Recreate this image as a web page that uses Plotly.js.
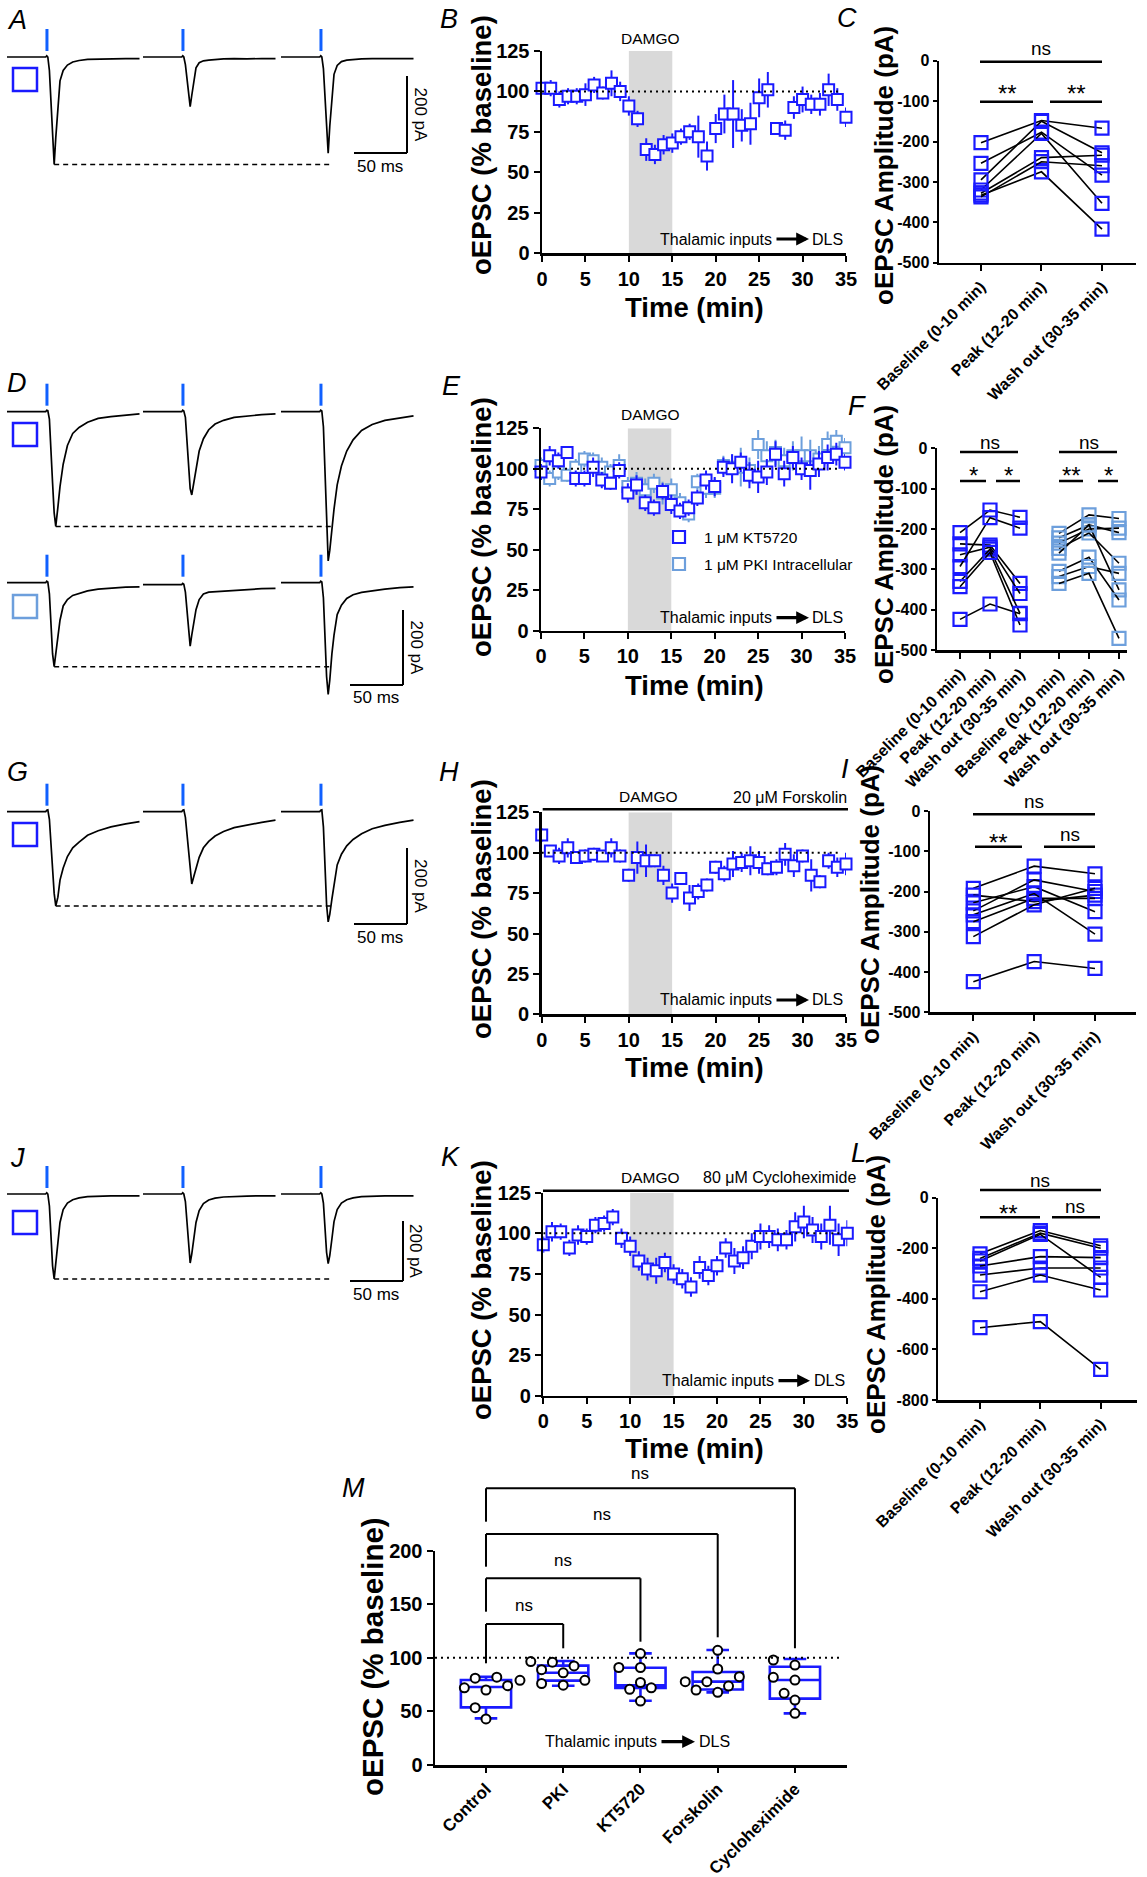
<!DOCTYPE html>
<html><head><meta charset="utf-8">
<script src="https://cdn.plot.ly/plotly-3.0.1.min.js"></script>
<style>html,body{margin:0;padding:0;background:#fff;}#chart{width:1147px;height:1877px;}</style>
</head><body><div id="chart"></div>
<script>
// ================= DATA =================
// electrophysiology sweeps: time (ms from sweep start) and current (pA)
const sweepT  = [0, 36.5, 37.5, 38.5, 40, 41.5, 43, 44.5, 46, 48, 50, 53, 57, 62, 68, 76, 86, 98, 112, 125];
const aSweep1 = [0,0,3,0,-35,-120,-225,-279,-210,-125,-62,-35,-21,-13,-9,-6,-5,-5,-4,-4];
const aSweep2 = [0,0,3,0,-20,-60,-105,-129,-100,-58,-28,-15,-10,-8,-6,-5,-4,-5,-4,-4];
const aSweep3 = [0,0,3,0,-30,-110,-200,-250,-180,-100,-45,-22,-12,-8,-6,-5,-4,-4,-4,-4];
const dTop1 = [0,0,4,3,-20,-90,-190,-270,-306,-255,-200,-140,-90,-58,-42,-28,-18,-13,-9,-6];
const dTop2 = [0,0,4,2,-15,-70,-145,-205,-222,-185,-150,-105,-72,-48,-33,-23,-15,-11,-8,-6];
const dTop3 = [0,0,4,2,-40,-160,-300,-398,-370,-310,-260,-195,-145,-105,-75,-50,-34,-23,-16,-11];
const dBot1 = [0,0,4,2,-30,-110,-190,-224,-190,-140,-100,-62,-45,-34,-28,-22,-17,-14,-12,-11];
const dBot2 = [-5,-5,-2,-4,-25,-80,-140,-169,-140,-105,-72,-45,-30,-25,-24,-22,-19,-17,-16,-15];
const dBot3 = [0,0,4,2,-40,-150,-250,-298,-260,-190,-140,-85,-60,-42,-32,-26,-21,-17,-13,-11];
const gSweep1 = [0,0,4,5,-20,-90,-160,-215,-248,-225,-180,-148,-118,-95,-80,-62,-50,-40,-32,-26];
const gSweep2 = [0,0,4,5,-15,-60,-120,-165,-190,-170,-148,-120,-95,-78,-64,-52,-42,-35,-28,-22];
const gSweep3 = [0,0,4,5,-40,-150,-245,-290,-270,-230,-190,-140,-112,-90,-73,-58,-45,-36,-28,-22];
const jSweep1 = [0,0,4,0,-40,-150,-240,-283,-235,-160,-95,-52,-30,-19,-13,-9,-7,-6,-6,-6];
const jSweep2 = [0,0,4,0,-25,-100,-185,-230,-200,-150,-95,-55,-32,-20,-14,-10,-8,-7,-6,-6];
const jSweep3 = [0,0,4,0,-30,-120,-195,-232,-205,-150,-92,-52,-30,-19,-13,-9,-7,-6,-6,-6];

// time courses (% baseline)
const timeMin = [0,1,2,3,4,5,6,7,8,9,10,11,12,13,14,15,16,17,18,19,20,21,22,23,24,25,26,27,28,29,30,31,32,33,34,35];
const bMean = [102,102,95,97,97,98,104,99,105,100,91,83,64,61,67,68,72,75,72,60,77,86,86,79,80,96,101,77,76,90,95,92,92,101,95,84];
const bErr  = [3,5,5,5,5,7,5,4,8,6,6,5,7,6,6,6,5,5,13,9,9,12,21,10,13,12,11,4,6,7,8,6,7,10,7,6];
const eKtMean = [98,108,105,110,94,94,101,93,91,99,85,90,79,76,86,78,74,76,82,93,89,101,100,104,96,95,98,109,97,107,100,99,103,107,109,104];
const eKtErr  = [5,6,5,4,5,5,6,5,4,5,6,6,5,5,5,6,5,5,5,6,6,6,9,6,8,10,8,8,8,7,7,12,8,8,7,5];
const ePkiMean = [102,94,98,96,101,106,105,101,98,102,89,91,87,91,85,87,79,72,92,88,88,102,101,101,99,115,108,110,105,108,108,108,106,115,117,113];
const ePkiErr  = [5,5,5,4,5,5,5,6,5,7,6,7,7,6,7,7,6,5,5,6,6,6,8,12,8,9,9,8,8,9,12,10,8,8,7,6];
const hMean = [111,101,98,103,97,98,99,98,103,98,86,97,95,95,86,75,84,72,76,80,91,87,93,94,95,94,90,91,99,92,98,86,82,95,91,93];
const hErr  = [4,3,5,6,3,4,4,3,6,4,4,10,10,4,6,6,3,8,5,4,4,5,8,6,9,7,4,5,7,7,4,10,4,5,6,7];
const kMean = [93,101,101,91,99,98,105,106,110,97,92,83,78,77,82,75,72,67,79,74,80,91,83,85,92,98,98,96,96,104,107,102,98,105,96,100];
const kErr  = [5,6,5,5,6,5,5,5,5,6,6,6,7,8,6,6,6,6,7,6,6,6,8,7,8,8,7,7,6,9,10,8,8,12,10,8];

// paired amplitudes (pA)
const cats3 = ['Baseline (0-10 min)','Peak (12-20 min)','Wash out (30-35 min)'];
const cBase = [-203,-254,-295,-320,-328,-333,-337];
const cPeak = [-148,-177,-150,-180,-240,-275,-250];
const cWash = [-167,-283,-228,-353,-234,-417,-260];
const fKtBase = [-209,-237,-264,-293,-330,-343,-424];
const fKtPeak = [-153,-240,-245,-172,-250,-258,-386];
const fKtWash = [-171,-335,-360,-198,-409,-438,-410];
const fPkiBase = [-211,-222,-235,-248,-260,-305,-318,-335];
const fPkiPeak = [-165,-190,-200,-210,-190,-270,-293,-310];
const fPkiWash = [-174,-209,-198,-285,-351,-376,-310,-471];
const iBase = [-192,-209,-228,-248,-258,-275,-312,-424];
const iPeak = [-137,-225,-188,-171,-205,-217,-233,-374];
const iWash = [-156,-209,-250,-200,-306,-217,-192,-391];
const lBase = [-222,-240,-250,-270,-306,-372,-514];
const lPeak = [-130,-140,-145,-233,-278,-306,-490];
const lWash = [-190,-200,-315,-237,-278,-365,-679];

// panel M
const mGroups = ['Control','PKI','KT5720','Forskolin','Cycloheximide'];
const mControl = [82,72,74,81,70,53.5,43];
const mPKI = [96,96.5,92.5,86,89,79,79,74.5,76];
const mKT = [104,91,91,77,72,70.6,59.7];
const mFsk = [107,89.6,77.8,77.8,82.4,67.8,70,73.7];
const mChx = [98,93.3,81.8,79.3,66.9,60.6,48.2];
const mQ1  = [53.8,78.7,71.8,70.5,61.9];
const mMed = [72.8,86.1,74.3,77.8,79.3];
const mQ3  = [79.3,92.7,90.8,86.8,91.7];
const mLo  = [43.5,74,60,67.8,48.2];
const mHi  = [82.4,97,104.2,107.3,98.9];

// ================= LAYOUT HELPERS =================
const W = 1147, H = 1877;
const FONT = '"Liberation Sans", Arial, Helvetica, sans-serif';
const BLUE = '#1a1aff', LBLUE = '#6d9fdc', STIM = '#1060ff';
const traces = [], shapes = [], annotations = [];
const layout = {width:W, height:H, margin:{l:0,r:0,t:0,b:0}, paper_bgcolor:'#fff', plot_bgcolor:'rgba(0,0,0,0)',
  showlegend:false, font:{family:FONT, color:'#000'}, shapes, annotations};
let axN = 0;
function addAxes(box, xo, yo){
  axN++;
  const s = axN===1 ? '' : String(axN);
  layout['xaxis'+s] = Object.assign({domain:[box[0]/W, box[1]/W], anchor:'y'+s, fixedrange:true}, xo);
  layout['yaxis'+s] = Object.assign({domain:[1-box[3]/H, 1-box[2]/H], anchor:'x'+s, fixedrange:true}, yo);
  return {x:'x'+s, y:'y'+s};
}
function txt(x, y, text, size, o){
  o = o || {};
  const f = {family:FONT, size:size, color:o.color||'#000'};
  if(o.bold) f.weight = 700;
  annotations.push({xref:'paper', yref:'paper', x:x/W, y:1-y/H, text:text, showarrow:false,
    xanchor:o.xa||'center', yanchor:o.ya||'middle', textangle:o.angle||0, font:f, borderpad:0});
}
function pline(x0,y0,x1,y1,w,color,dash){
  shapes.push({type:'line', xref:'paper', yref:'paper', x0:x0/W, y0:1-y0/H, x1:x1/W, y1:1-y1/H,
    line:{color:color||'#000', width:w||2, dash:dash||'solid'}});
}
function prect(x0,y0,x1,y1,color,w){
  shapes.push({type:'rect', xref:'paper', yref:'paper', x0:x0/W, y0:1-y0/H, x1:x1/W, y1:1-y1/H,
    line:{color:color, width:w||2.5}, fillcolor:'rgba(0,0,0,0)'});
}
function arrow(tailX, tipX, y){
  annotations.push({xref:'paper', yref:'paper', x:tipX/W, y:1-y/H, ax:-(tipX-tailX), ay:0,
    text:'', showarrow:true, arrowhead:2, arrowsize:0.8, arrowwidth:3.2, arrowcolor:'#000', standoff:0});
}
function thal(textRight, tail, tip, dlsLeft, y, size){
  txt(textRight, y, 'Thalamic inputs', size, {xa:'right'});
  arrow(tail, tip, y);
  txt(dlsLeft, y, 'DLS', size, {xa:'left'});
}
function label(x, y, t){ txt(x, y, '<i>'+t+'</i>', 27); }

// ---------- trace panels ----------
const PX_MS = 1.06, ORIGIN_PX = 7;
const sweepStartMs = [0, 128.3, 258.5];
const STIM_MS = 37.7;
function tracePanel(box, base, k, sweeps, opt){
  const ax = addAxes(box,
    {visible:false, range:[(box[0]-ORIGIN_PX)/PX_MS, (box[1]-ORIGIN_PX)/PX_MS]},
    {visible:false, range:[-(box[3]-base)/k, (base-box[2])/k]});
  sweeps.forEach((s,i)=>{
    traces.push({type:'scatter', mode:'lines', x:sweepT.map(t=>t+sweepStartMs[i]), y:s,
      xaxis:ax.x, yaxis:ax.y, line:{color:'#000', width:1.7}, hoverinfo:'skip'});
    shapes.push({type:'line', xref:ax.x, yref:ax.y, x0:sweepStartMs[i]+STIM_MS, x1:sweepStartMs[i]+STIM_MS,
      y0:6/k, y1:28/k, line:{color:STIM, width:3}});
  });
  const s1 = sweeps[0], pk = Math.min(...s1), ti = s1.indexOf(pk);
  shapes.push({type:'line', xref:ax.x, yref:ax.y, x0:sweepT[ti], x1:sweepStartMs[2]+48, y0:pk, y1:pk,
    line:{color:'#000', width:1.5, dash:'5px,4px'}});
  if(opt.scale){
    const sx = (opt.scale.x - ORIGIN_PX)/PX_MS, yb = -(opt.scale.bot - base)/k;
    shapes.push({type:'line', xref:ax.x, yref:ax.y, x0:sx, x1:sx, y0:yb, y1:yb+200, line:{color:'#000', width:2}});
    shapes.push({type:'line', xref:ax.x, yref:ax.y, x0:sx-50, x1:sx, y0:yb, y1:yb, line:{color:'#000', width:2}});
    const topPy = opt.scale.bot - 200*k;
    txt(opt.scale.x+13, (topPy+opt.scale.bot)/2, '200 pA', 17, {angle:90});
    txt(opt.scale.x-27, opt.scale.bot+13, '50 ms', 17);
  }
  prect(13, opt.leg, 37, opt.leg+23, opt.legColor, 2.5);
}
tracePanel([0,440,5,185], 57, 0.385, [aSweep1,aSweep2,aSweep3], {scale:{x:407, bot:153}, leg:68, legColor:BLUE});
tracePanel([0,440,370,600], 411.7, 0.375, [dTop1,dTop2,dTop3], {leg:423, legColor:BLUE});
tracePanel([0,440,540,720], 582.7, 0.375, [dBot1,dBot2,dBot3], {scale:{x:403, bot:685}, leg:595, legColor:LBLUE});
tracePanel([0,440,760,960], 811.7, 0.38, [gSweep1,gSweep2,gSweep3], {scale:{x:407, bot:924}, leg:823, legColor:BLUE});
tracePanel([0,440,1145,1320], 1194, 0.3, [jSweep1,jSweep2,jSweep3], {scale:{x:403, bot:1281}, leg:1211, legColor:BLUE});

// ---------- time-course panels ----------
function axStyle(size, tl){
  return {ticks:'outside', ticklen:tl||6, tickwidth:2, tickcolor:'#000', showline:true, linewidth:2.5,
    linecolor:'#000', showgrid:false, zeroline:false, tickfont:{family:FONT, size:size, weight:700, color:'#000'}};
}
function timeCourse(box, series){
  const ax = addAxes(box,
    Object.assign({range:[0,35], tickvals:[0,5,10,15,20,25,30,35]}, axStyle(20)),
    Object.assign({range:[0,125], tickvals:[0,25,50,75,100,125]}, axStyle(20)));
  shapes.push({type:'rect', xref:ax.x, yref:ax.y, x0:10, x1:15, y0:0, y1:125, fillcolor:'#d9d9d9',
    line:{width:0}, layer:'below'});
  shapes.push({type:'line', xref:ax.x, yref:ax.y, x0:0, x1:34.5, y0:100, y1:100,
    line:{color:'#000', width:2, dash:'2px,4px'}});
  series.forEach(s=>traces.push({type:'scatter', mode:'markers', x:timeMin, y:s.y, xaxis:ax.x, yaxis:ax.y,
    error_y:{type:'data', array:s.err, visible:true, color:s.color, thickness:2, width:0},
    marker:{symbol:'square', size:11, color:'#fff', line:{color:s.color, width:2}}, cliponaxis:false, hoverinfo:'skip'}));
  return ax;
}
timeCourse([542,846,51,253], [{y:bMean, err:bErr, color:BLUE}]);
timeCourse([541,845,428.3,630.7], [{y:ePkiMean, err:ePkiErr, color:LBLUE},{y:eKtMean, err:eKtErr, color:BLUE}]);
timeCourse([541.7,846,812.3,1014.3], [{y:hMean, err:hErr, color:BLUE}]);
timeCourse([543.3,847.3,1192.7,1395.7], [{y:kMean, err:kErr, color:BLUE}]);

// ---------- paired panels ----------
function paired(box, xr, yr, yticks, xticks, groups){
  const ax = addAxes(box,
    Object.assign({range:xr, tickvals:xticks, ticktext:xticks.map((v,i)=>cats3[i%3]), tickangle:-45}, axStyle(16)),
    Object.assign({range:yr, tickvals:yticks, ticktext:yticks.map(v=>String(v))}, axStyle(16, 4)));
  groups.forEach(g=>{
    for(let i=0;i<g.base.length;i++){
      traces.push({type:'scatter', mode:'lines+markers', x:g.xs, y:[g.base[i], g.peak[i], g.wash[i]],
        xaxis:ax.x, yaxis:ax.y, line:{color:'#000', width:1.6},
        marker:{symbol:'square-open', size:13, color:g.color, line:{width:2.2, color:g.color}},
        cliponaxis:false, hoverinfo:'skip'});
    }
  });
  return ax;
}
const y500 = [0,-100,-200,-300,-400,-500];
paired([939,1136,60.7,262.7], [-0.694,2.562], [-500,0], y500, [0,1,2], [{base:cBase, peak:cPeak, wash:cWash, xs:[0,1,2], color:BLUE}]);
paired([937,1127,448.3,650], [-0.767,5.567], [-500,0], y500, [0,1,2,3.3,4.3,5.3],
  [{base:fKtBase, peak:fKtPeak, wash:fKtWash, xs:[0,1,2], color:BLUE},
   {base:fPkiBase, peak:fPkiPeak, wash:fPkiWash, xs:[3.3,4.3,5.3], color:LBLUE}]);
paired([930,1136,811,1012.3], [-0.712,2.674], [-500,0], y500, [0,1,2], [{base:iBase, peak:iPeak, wash:iWash, xs:[0,1,2], color:BLUE}]);
paired([938.3,1136.7,1197.7,1400], [-0.691,2.597], [-800,0], [0,-200,-400,-600,-800], [0,1,2], [{base:lBase, peak:lPeak, wash:lWash, xs:[0,1,2], color:BLUE}]);

// ---------- panel M ----------
const axM = addAxes([435,846.7,1550.7,1765],
  Object.assign({range:[-0.66,4.67], tickvals:[0,1,2,3,4], ticktext:mGroups, tickangle:-45}, axStyle(17, 5)),
  Object.assign({range:[0,200], tickvals:[0,50,100,150,200]}, axStyle(20)));
shapes.push({type:'line', xref:axM.x, yref:axM.y, x0:-0.66, x1:4.62, y0:100, y1:100, line:{color:'#000', width:2, dash:'2px,4px'}});
traces.push({type:'box', x:[0,1,2,3,4], q1:mQ1, median:mMed, q3:mQ3, lowerfence:mLo, upperfence:mHi,
  width:0.65, whiskerwidth:0.45, boxpoints:false, fillcolor:'rgba(0,0,0,0)', line:{color:BLUE, width:2.6},
  xaxis:axM.x, yaxis:axM.y, hoverinfo:'skip'});
function swarm(vals, center){
  const step = 0.14, pxX = 77.25, pxY = 1.07, placed = [], xs = new Array(vals.length);
  const order = vals.map((v,i)=>i).sort((a,b)=>vals[a]-vals[b]);
  order.forEach(i=>{
    for(let kk=0; kk<11; kk++){
      const slot = kk===0 ? 0 : (kk%2 ? -Math.ceil(kk/2) : Math.ceil(kk/2));
      const ok = !placed.some(p=>Math.hypot((p.slot-slot)*step*pxX, (p.v-vals[i])*pxY) < 12);
      if(ok){ placed.push({slot:slot, v:vals[i]}); xs[i] = center + slot*step; break; }
    }
  });
  return xs;
}
[mControl, mPKI, mKT, mFsk, mChx].forEach((vals,g)=>{
  traces.push({type:'scatter', mode:'markers', x:swarm(vals,g), y:vals, xaxis:axM.x, yaxis:axM.y,
    marker:{symbol:'circle', size:9, color:'#fff', line:{color:'#000', width:2}}, cliponaxis:false, hoverinfo:'skip'});
});
function mline(xa, ya, xb, yb){
  shapes.push({type:'line', xref:axM.x, yref:'paper', x0:xa, x1:xb, y0:1-ya/H, y1:1-yb/H, line:{color:'#000', width:2}});
}
[[1,1624,1663.3,1648.3],[2,1578.3,1611.7,1641.7],[3,1534,1566.7,1637.3],[4,1488.3,1521.7,1648.3]].forEach(b=>{
  mline(0,b[1],b[0],b[1]); mline(0,b[1],0,b[2]); mline(b[0],b[1],b[0],b[3]);
});
txt(524,1605,'ns',17); txt(563,1560,'ns',17); txt(602,1514,'ns',17); txt(640,1473,'ns',17);

// ---------- significance marks for C, F, I, L ----------
pline(980,61.7,1102,61.7,2.5); txt(1041,48,'ns',19);
pline(980,101.7,1033,101.7,2.5); pline(1050,101.7,1102,101.7,2.5);
txt(1007,94,'**',24); txt(1076,94,'**',24);

pline(960,452,1018,452,2.5); pline(1059,452,1117,452,2.5);
txt(990,442,'ns',19); txt(1089,442,'ns',19);
pline(960,481,986,481,2.5); pline(996,481,1020,481,2.5); pline(1059,481,1083,481,2.5); pline(1098,481,1118,481,2.5);
txt(973,476,'*',24); txt(1008,476,'*',24); txt(1071,476,'**',24); txt(1108,476,'*',24);

pline(973,814.3,1095,814.3,2.5); txt(1034,802,'ns',19);
pline(975,846.7,1022,846.7,2.5); pline(1044,846.7,1095,846.7,2.5);
txt(998,842,'**',24); txt(1070,834,'ns',19);

pline(980,1190,1101,1190,2.5); txt(1040,1180,'ns',19);
pline(980,1217.3,1040,1217.3,2.5); pline(1052,1217.3,1100,1217.3,2.5);
txt(1008,1213,'**',24); txt(1075,1206,'ns',19);

// ---------- text decorations ----------
txt(650,38,'DAMGO',15.5); txt(650,414,'DAMGO',15.5); txt(648,796,'DAMGO',15.5); txt(650,1177,'DAMGO',15.5);
pline(542.7,809.3,848,809.3,2.5); txt(848,797,'20 \u03bcM Forskolin',16,{xa:'right'});
pline(543,1190.7,849,1190.7,2.5); txt(857,1177,'80 \u03bcM Cycloheximide',16,{xa:'right'});
thal(773,775,809,811,239,16); thal(773,775,809,811,617.7,16); thal(773,775,809,811,1000,16); thal(775,777,810,813,1380.7,16);
thal(658,660,695,698,1741.7,16);
prect(673,531,685,543,BLUE,2.2); prect(673,558,685,570,LBLUE,2.2);
txt(703,537,'1 \u03bcM KT5720',15.5,{xa:'left'}); txt(703,564,'1 \u03bcM PKI Intracellular',15.5,{xa:'left'});
['B','E','H','K'].forEach((p,i)=>{
  const yc = [145,527,909,1290][i], yt = [307,685,1067,1448][i];
  txt(481, yc, 'oEPSC (% baseline)', 27.5, {bold:true, angle:-90});
  txt(694, yt, 'Time (min)', 27.5, {bold:true});
});
txt(884,166,'oEPSC Amplitude (pA)',26,{bold:true, angle:-90});
txt(884,545,'oEPSC Amplitude (pA)',26,{bold:true, angle:-90});
txt(870,905,'oEPSC Amplitude (pA)',26,{bold:true, angle:-90});
txt(876,1295,'oEPSC Amplitude (pA)',26,{bold:true, angle:-90});
txt(372,1657,'oEPSC (% baseline)',29.5,{bold:true, angle:-90});
label(17,20,'A'); label(449,19,'B'); label(847,18,'C');
label(17,383,'D'); label(451,386,'E'); label(857,406,'F');
label(17,772,'G'); label(449,772,'H'); label(845,769,'I');
label(17,1158,'J'); label(450,1157,'K'); label(858,1153,'L');
label(353,1488,'M');

Plotly.newPlot('chart', traces, layout, {staticPlot:true, displayModeBar:false});
</script></body></html>
